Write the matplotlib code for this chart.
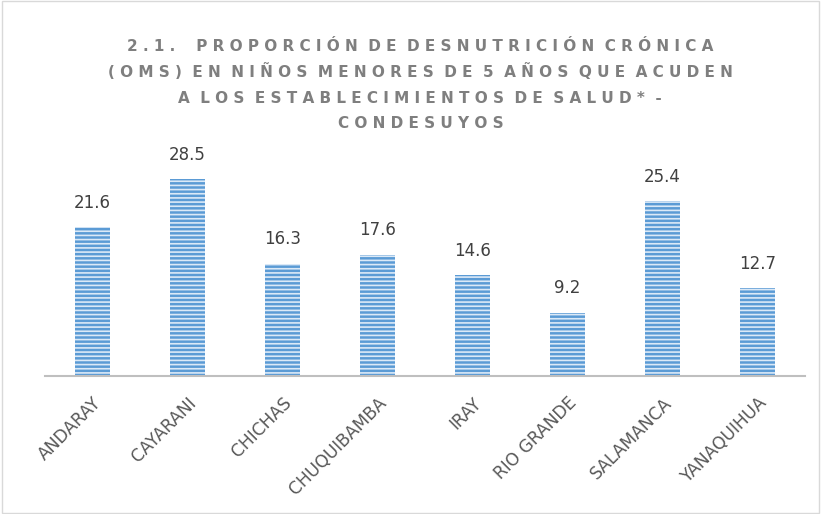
import matplotlib.pyplot as plt
from matplotlib.patches import Rectangle

plt.rcParams['hatch.linewidth'] = 1.2

# data
distritos = ["ANDARAY", "CAYARANI", "CHICHAS", "CHUQUIBAMBA", "IRAY",
             "RIO GRANDE", "SALAMANCA", "YANAQUIHUA"]
valores = [21.6, 28.5, 16.3, 17.6, 14.6, 9.2, 25.4, 12.7]

titulo = ["2.1.  PROPORCIÓN DE DESNUTRICIÓN CRÓNICA",
          "(OMS) EN NIÑOS MENORES DE 5 AÑOS QUE ACUDEN",
          "A LOS ESTABLECIMIENTOS DE SALUD* -",
          "CONDESUYOS"]


def espaciar(s):
    # imitate the wide letter spacing of the original title
    palabras = s.split(" ")
    return "  ".join(" ".join(p) for p in palabras)


fig = plt.figure(figsize=(8.21, 5.14), dpi=100)
fig.patches.append(Rectangle((0.002, 0.002), 0.996, 0.996, transform=fig.transFigure,
                             fill=False, edgecolor='#d9d9d9', linewidth=1))
ax = fig.add_axes([0.0548, 0.2685, 0.9257, 0.4025])

x = range(len(distritos))
bars = ax.bar(x, valores, width=0.37, color='#5b9bd5', edgecolor='#dbe9f7',
              linewidth=0, hatch='----')

for i, v in enumerate(valores):
    ax.text(i, v + 2.2, f"{v:.1f}", ha='center', va='bottom', fontsize=12,
            color='#404040')

ax.set_xlim(-0.5, len(distritos) - 0.5)
ax.set_ylim(0, 30)
ax.set_yticks([])
ax.set_xticks(list(x))
ax.set_xticklabels(distritos, rotation=45, ha='right', va='top', fontsize=12.3,
                   color='#595959', rotation_mode='anchor')
ax.tick_params(axis='x', length=0, pad=13)
for s in ['top', 'right', 'left']:
    ax.spines[s].set_visible(False)
ax.spines['bottom'].set_color('#bfbfbf')
ax.spines['bottom'].set_linewidth(1.5)

ys = [0.910, 0.860, 0.809, 0.759]
for t, y in zip(titulo, ys):
    fig.text(0.512, y, espaciar(t), ha='center', va='center', fontsize=11,
             fontweight='bold', color='#7f7f7f')

fig.savefig("out.png", dpi=100)
